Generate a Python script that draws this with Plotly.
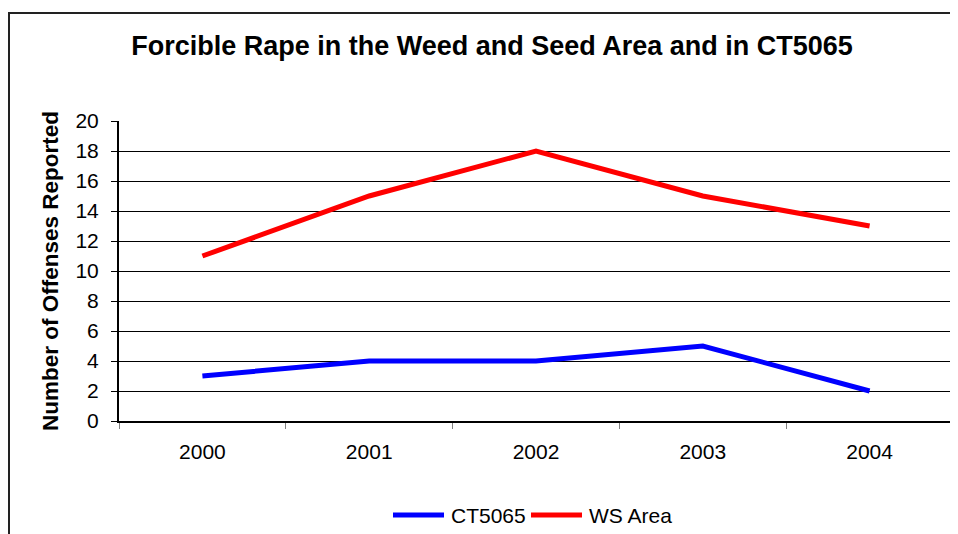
import plotly.graph_objects as go

years = ["2000", "2001", "2002", "2003", "2004"]
series_names = ["CT5065", "WS Area"]
ct5065 = [3, 4, 4, 5, 2]
ws_area = [11, 15, 18, 15, 13]
colors = ["#0000FF", "#FF0000"]

# page body has an 8px margin; work in window coordinates and shift
OFF = 8
W, H = 958, 534
pl, pr, pt, pb = 119, 953, 121, 421  # plot area in window pixels
L, T = pl - OFF, pt - OFF
R = W - (pr - OFF)
B = H - (pb - OFF)
pw = pr - pl
ph = pb - pt

def px(x):
    return (x - pl) / pw

def py(y):
    return (pb - y) / ph

fig = go.Figure()
for name, vals, col in zip(series_names, [ct5065, ws_area], colors):
    fig.add_trace(go.Scatter(x=years, y=vals, name=name, mode="lines",
                             line=dict(color=col, width=5), showlegend=False))

font = "Liberation Sans, Arial, sans-serif"

# manual legend (line sample + label)
leg_y = py(515)
legend_shapes = []
legend_annots = []
leg_items = [(393, 444, 449), (531, 582, 587)]
for (x0, x1, tx), name, col in zip(leg_items, series_names, colors):
    legend_shapes.append(dict(type="line", xref="paper", yref="paper",
                              x0=px(x0), x1=px(x1), y0=leg_y, y1=leg_y,
                              line=dict(color=col, width=5)))
    legend_annots.append(dict(text=name, xref="paper", yref="paper", x=px(tx), y=leg_y,
                              xanchor="left", yanchor="middle", showarrow=False,
                              font=dict(size=21, family=font, color="black")))

fig.update_layout(
    width=W, height=H,
    margin=dict(l=L, r=R, t=T, b=B),
    paper_bgcolor="white", plot_bgcolor="white",
    font=dict(family=font, size=21, color="black"),
    title=dict(text="<b>Forcible Rape in the Weed and Seed Area and in CT5065</b>",
               x=px(492), xref="paper", xanchor="center",
               y=1 - (46 - OFF) / H, yref="container", yanchor="middle",
               font=dict(size=27, family=font, color="black")),
    showlegend=False,
    xaxis=dict(type="category", range=[-0.5, 4.5], tickson="boundaries", ticks="outside",
               ticklen=6, tickcolor="#808080", showgrid=False, showline=True,
               linecolor="black", linewidth=1.5, ticklabelstandoff=11,
               tickfont=dict(size=21)),
    yaxis=dict(range=[0, 20], dtick=2, tick0=0, ticks="outside", ticklen=6, tickcolor="black",
               showgrid=True, gridcolor="black", gridwidth=1, showline=True,
               linecolor="black", linewidth=2, zeroline=False, tickfont=dict(size=21),
               ticklabelstandoff=8),
    shapes=[
        dict(type="rect", xref="paper", yref="paper", x0=px(9), x1=px(975), y0=py(580), y1=py(13),
             line=dict(color="#222222", width=2), fillcolor="rgba(0,0,0,0)", layer="below"),
        dict(type="line", xref="paper", yref="paper", x0=1, x1=1, y0=0, y1=1,
             line=dict(color="#808080", width=2)),
    ] + legend_shapes,
    annotations=[
        dict(text="<b>Number of Offenses Reported</b>", textangle=-90, xref="paper", yref="paper",
             x=px(50), y=py(271), xanchor="center", yanchor="middle", showarrow=False,
             font=dict(size=22.5, family=font, color="black")),
    ] + legend_annots,
)

fig.write_html("out.html")
